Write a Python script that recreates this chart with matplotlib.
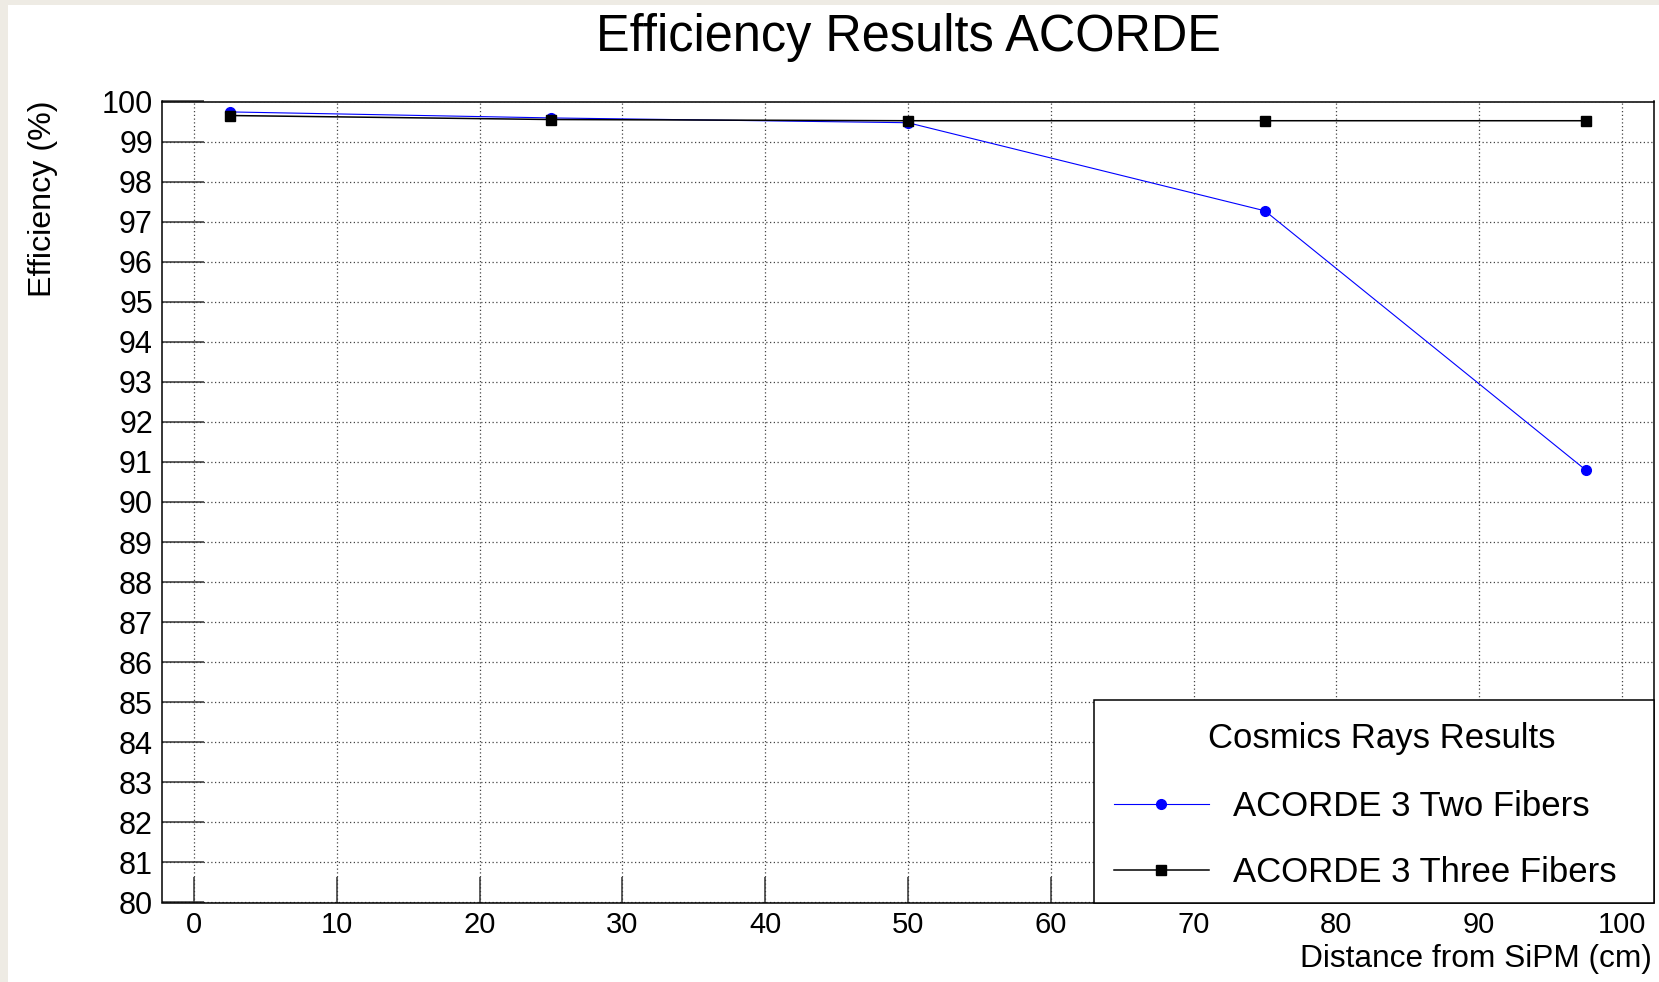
import matplotlib
matplotlib.use("Agg")
import matplotlib.pyplot as plt
from matplotlib.patches import Rectangle
from matplotlib.offsetbox import HPacker, VPacker, DrawingArea

plt.rcParams['font.family'] = ['Liberation Sans', 'DejaVu Sans']

distance = [2.5, 25, 50, 75, 97.5]
two_fibers = [99.74, 99.59, 99.47, 97.27, 90.79]
three_fibers = [99.65, 99.55, 99.52, 99.52, 99.52]
x_ticks = [0, 10, 20, 30, 40, 50, 60, 70, 80, 90, 100]
y_ticks = list(range(80, 101))

title = "Efficiency Results ACORDE"
xlabel = "Distance from SiPM (cm)"
ylabel = "Efficiency (%)"
legend_title = "Cosmics Rays Results"
label_two = "ACORDE 3 Two Fibers"
label_three = "ACORDE 3 Three Fibers"

W, H = 1659, 982
PX = 72 / 100  # points per pixel
fig = plt.figure(figsize=(W / 100, H / 100), dpi=100, facecolor='#EEEBE4')
fig.patches.append(Rectangle((8 / W, 0), 1 - 8 / W, 1 - 5 / H, transform=fig.transFigure,
                             facecolor='white', edgecolor='none', zorder=-10))

L, R, T, B = 162, 1654, 101.5, 902.5
ax = fig.add_axes([L / W, 1 - B / H, (R - L) / W, (B - T) / H])

ax.plot(distance, two_fibers, color='blue', lw=0.8, marker='o', ms=7,
        markeredgecolor='blue', markerfacecolor='blue', label=label_two, zorder=3)
ax.plot(distance, three_fibers, color='black', lw=1.1, marker='s', ms=6.5,
        markeredgecolor='black', markerfacecolor='black', label=label_three, zorder=3)

ax.set_xlim(-2.25, 102.25)
ax.set_ylim(80, 100)
ax.set_xticks(x_ticks)
ax.set_yticks(y_ticks)
ax.set_xticklabels([str(v) for v in x_ticks])
ax.set_yticklabels([str(v) for v in y_ticks])
ax.tick_params(axis='y', direction='in', length=30, width=1.1, labelsize=22, pad=6.5,
               right=False, color='#333333')
ax.tick_params(axis='x', direction='in', length=19, width=1.1, labelsize=21, pad=6,
               top=False, color='#333333')
ax.grid(True, linestyle=(0, (1, 2)), color='#444444', lw=0.9)
for s in ax.spines.values():
    s.set_linewidth(1.1)
    s.set_color('black')

fig.text(908 / W, 1 - 38 / H, title, ha='center', va='center', fontsize=36.4)
fig.text(1652 / W, 1 - 967 / H, xlabel, ha='right', va='baseline', fontsize=22.8)
fig.text(43 / W, 1 - 100.5 / H, ylabel, ha='center', va='top', rotation=90, fontsize=23.2)

fs = 25
leg = ax.legend(loc='lower right', bbox_to_anchor=(0.6247, 0.0, 0.3753, 0.2516),
                mode='expand', borderaxespad=0, fancybox=False, framealpha=1,
                edgecolor='black', fontsize=fs, title=legend_title, title_fontsize=fs,
                handlelength=2.74, handletextpad=0.69, labelspacing=0.956,
                borderpad=0.384, numpoints=1)
leg.get_frame().set_linewidth(1.1)
leg._legend_box.sep = 25 * PX / PX * 1.0

# fine-tune legend inner layout: extra space above the header, header nudged right,
# entries nudged right
title_box = leg._legend_title_box
leg._legend_box._children[0] = VPacker(
    pad=0, sep=0, align='center',
    children=[DrawingArea(0, 8.6 * PX),
              HPacker(pad=0, sep=0, align='bottom',
                      children=[DrawingArea(14.8 * PX, 0), title_box])])
hb = leg._legend_handle_box
col = hb._children[0]
hb._children[0] = HPacker(pad=0, sep=0, align='bottom',
                          children=[DrawingArea(6.3 * PX, 0), col])

fig.savefig('out.png', dpi=100, facecolor=fig.get_facecolor())
